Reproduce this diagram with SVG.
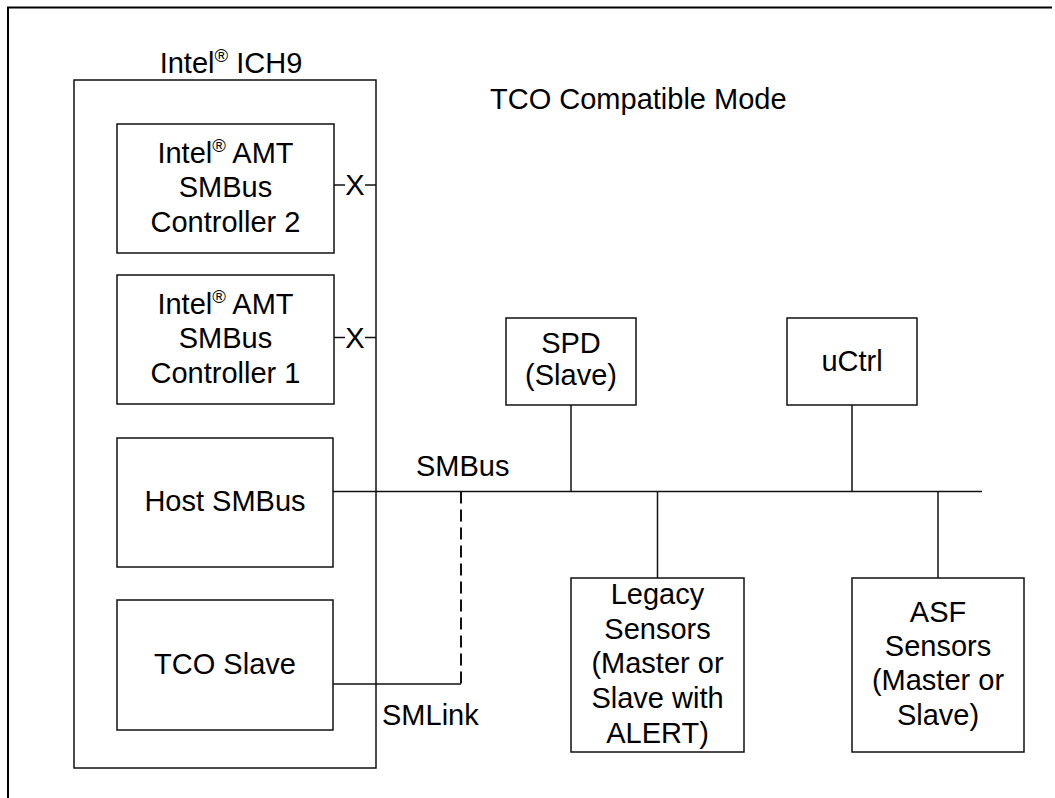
<svg xmlns="http://www.w3.org/2000/svg" width="1055" height="798" viewBox="0 0 1055 798">
<style>
  .box { fill: none; stroke: #111; stroke-width: 1.5; }
  .frame { fill: none; stroke: #000; stroke-width: 2; }
  .wire { fill: none; stroke: #111; stroke-width: 1.5; }
  .dash { fill: none; stroke: #111; stroke-width: 2; stroke-dasharray: 12 6; }
  text { font-family: "Liberation Sans", Arial, sans-serif; font-size: 29px; fill: #000; }
  .c { text-anchor: middle; }
  .sup { font-size: 18.5px; }
</style>
<rect width="1055" height="798" fill="#fff"/>
<g id="frame">
  <polyline class="frame" points="8,798 8,7.5 1052,7.5"/>
</g>
<text id="title" x="490" y="109">TCO Compatible Mode</text>
<g id="ich9">
  <rect class="box" x="74" y="80" width="302" height="688"/>
  <text class="c" x="231" y="73">Intel<tspan class="sup" dy="-11.5">®</tspan><tspan dy="11.5"> ICH9</tspan></text>
</g>
<g id="amt2">
  <rect class="box" x="117" y="124" width="217" height="129"/>
  <text class="c" x="225.5" y="163">Intel<tspan class="sup" dy="-11.5">®</tspan><tspan dy="11.5"> AMT</tspan></text>
  <text class="c" x="225.5" y="197">SMBus</text>
  <text class="c" x="225.5" y="231.5">Controller 2</text>
</g>
<g id="amt1">
  <rect class="box" x="117" y="275" width="217" height="129"/>
  <text class="c" x="225.5" y="314">Intel<tspan class="sup" dy="-11.5">®</tspan><tspan dy="11.5"> AMT</tspan></text>
  <text class="c" x="225.5" y="348">SMBus</text>
  <text class="c" x="225.5" y="382.5">Controller 1</text>
</g>
<g id="host">
  <rect class="box" x="117" y="438" width="216" height="129"/>
  <text class="c" x="225" y="511">Host SMBus</text>
</g>
<g id="tco">
  <rect class="box" x="117" y="600" width="216" height="130"/>
  <text class="c" x="225" y="674">TCO Slave</text>
</g>
<g id="spd">
  <rect class="box" x="506" y="318" width="130" height="87"/>
  <text class="c" x="571" y="353">SPD</text>
  <text class="c" x="571" y="385">(Slave)</text>
</g>
<g id="uctrl">
  <rect class="box" x="787" y="318" width="130" height="87"/>
  <text class="c" x="852" y="371">uCtrl</text>
</g>
<g id="legacy">
  <rect class="box" x="571" y="578" width="173" height="174"/>
  <text class="c" x="657.5" y="604">Legacy</text>
  <text class="c" x="657.5" y="639">Sensors</text>
  <text class="c" x="657.5" y="673">(Master or</text>
  <text class="c" x="657.5" y="708">Slave with</text>
  <text class="c" x="657.5" y="742.5">ALERT)</text>
</g>
<g id="asf">
  <rect class="box" x="852" y="578" width="172" height="174"/>
  <text class="c" x="938" y="621.5">ASF</text>
  <text class="c" x="938" y="655.5">Sensors</text>
  <text class="c" x="938" y="690">(Master or</text>
  <text class="c" x="938" y="725">Slave)</text>
</g>
<g id="connectors">
  <line class="wire" x1="334" y1="185" x2="345" y2="185"/>
  <line class="wire" x1="365" y1="185" x2="376" y2="185"/>
  <text class="c" x="355" y="195">X</text>
  <line class="wire" x1="334" y1="337.5" x2="345" y2="337.5"/>
  <line class="wire" x1="365" y1="337.5" x2="376" y2="337.5"/>
  <text class="c" x="355" y="347.5">X</text>
  <line class="wire" x1="333" y1="491.5" x2="982" y2="491.5"/>
  <line class="wire" x1="571" y1="405" x2="571" y2="491.5"/>
  <line class="wire" x1="852" y1="405" x2="852" y2="491.5"/>
  <line class="wire" x1="657.5" y1="491.5" x2="657.5" y2="578"/>
  <line class="wire" x1="938" y1="491.5" x2="938" y2="578"/>
  <polyline class="wire" points="333,684 461,684"/>
  <line class="dash" x1="461" y1="491.5" x2="461" y2="684"/>
  <text x="416" y="476">SMBus</text>
  <text x="382" y="725">SMLink</text>
</g>
</svg>
